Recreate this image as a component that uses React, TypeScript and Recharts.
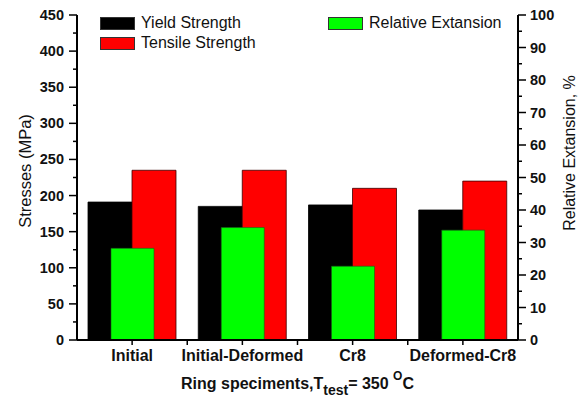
import { ComposedChart, Bar, XAxis, YAxis } from 'recharts';

const categories = ['Initial', 'Initial-Deformed', 'Cr8', 'Deformed-Cr8'];
const yieldStrength = [191, 185, 187, 180];
const tensileStrength = [235, 235, 210, 220];
const relativeExtansion = [28.2, 34.6, 22.7, 33.8];

const stressTicks = [0, 25, 50, 75, 100, 125, 150, 175, 200, 225, 250, 275, 300, 325, 350, 375, 400, 425, 450];
const extTicks = [0, 5, 10, 15, 20, 25, 30, 35, 40, 45, 50, 55, 60, 65, 70, 75, 80, 85, 90, 95, 100];

const data = categories.map((name, i) => ({
  name,
  yield: yieldStrength[i],
  tensile: tensileStrength[i],
  ext: relativeExtansion[i],
}));

const FONT = '"Liberation Sans", Arial, sans-serif';
const BAND = 110.25;
const boldText = { fontWeight: 700, fontFamily: FONT };

function LeftTick(props: any) {
  const { x, y, payload } = props;
  const major = payload.value % 50 === 0;
  return (
    <g>
      <line x1={x} x2={x - (major ? 8 : 4)} y1={y} y2={y} stroke="#000" strokeWidth={1.5} />
      {major && (
        <text x={x - 13} y={y + 5} textAnchor="end" fontSize={14.5} style={boldText} fill="#111">
          {payload.value}
        </text>
      )}
    </g>
  );
}

function RightTick(props: any) {
  const { x, y, payload } = props;
  const major = payload.value % 10 === 0;
  return (
    <g>
      <line x1={x} x2={x + (major ? 8 : 4)} y1={y} y2={y} stroke="#000" strokeWidth={1.5} />
      {major && (
        <text x={x + 12} y={y + 5} textAnchor="start" fontSize={14.5} style={boldText} fill="#111">
          {payload.value}
        </text>
      )}
    </g>
  );
}

function BottomTick(props: any) {
  const { x, y, payload, index } = props;
  return (
    <g>
      <line x1={x} x2={x} y1={y} y2={y + 5} stroke="#000" strokeWidth={1.5} />
      {index < categories.length - 1 && (
        <line x1={x + BAND / 2} x2={x + BAND / 2} y1={y} y2={y + 5} stroke="#000" strokeWidth={1.5} />
      )}
      <text x={x} y={y + 21} textAnchor="middle" fontSize={16} style={boldText} fill="#111">
        {payload.value}
      </text>
    </g>
  );
}

function XTitle(props: any) {
  const { viewBox } = props;
  const cx = viewBox.x + viewBox.width / 2;
  return (
    <text x={cx} y={389} textAnchor="middle" fontSize={16} style={boldText} fill="#111">
      <tspan>Ring speciments,T</tspan>
      <tspan fontSize={14} dy={6}>test</tspan>
      <tspan dy={-6}>= 350 </tspan>
      <tspan fontSize={12} dy={-9}>O</tspan>
      <tspan dy={9}>C</tspan>
    </text>
  );
}

function LeftTitle() {
  return (
    <text x={0} y={0} transform="translate(31,171) rotate(-90)" textAnchor="middle" fontSize={16.5} fontFamily={FONT} fill="#111">
      Stresses (MPa)
    </text>
  );
}

function RightTitle() {
  return (
    <text x={0} y={0} transform="translate(575,153) rotate(-90)" textAnchor="middle" fontSize={16} fontFamily={FONT} fill="#111">
      Relative Extansion, %
    </text>
  );
}

const legendItems = [
  { label: 'Yield Strength', color: '#000000', left: 100, top: 16 },
  { label: 'Tensile Strength', color: '#ff0000', left: 100, top: 36 },
  { label: 'Relative Extansion', color: '#00ff00', left: 328, top: 16 },
];

export default function App() {
  return (
    <div style={{ position: 'absolute', left: 0, top: 0, width: 581, height: 401, background: '#fff' }}>
      <ComposedChart
        width={581}
        height={401}
        data={data}
        margin={{ top: 15, right: 23, bottom: 0, left: 17 }}
        barGap={0}
      >
        <XAxis
          xAxisId="main"
          dataKey="name"
          height={61}
          tickSize={0}
          tickMargin={0}
          tick={<BottomTick />}
          axisLine={{ stroke: '#000', strokeWidth: 2 }}
          interval={0}
          label={<XTitle />}
        />
        <XAxis xAxisId="ext" dataKey="name" orientation="top" height={0} hide />
        <YAxis
          yAxisId="left"
          width={60}
          domain={[0, 450]}
          ticks={stressTicks}
          interval={0}
          tickSize={0}
          tickMargin={0}
          tick={<LeftTick />}
          axisLine={{ stroke: '#000', strokeWidth: 2 }}
          label={<LeftTitle />}
        />
        <YAxis
          yAxisId="right"
          orientation="right"
          width={40}
          domain={[0, 100]}
          ticks={extTicks}
          interval={0}
          tickSize={0}
          tickMargin={0}
          tick={<RightTick />}
          axisLine={{ stroke: '#000', strokeWidth: 2 }}
          label={<RightTitle />}
        />
        <Bar xAxisId="main" yAxisId="left" dataKey="yield" fill="#000000" stroke="#000" strokeWidth={0.8} barSize={44} isAnimationActive={false} />
        <Bar xAxisId="main" yAxisId="left" dataKey="tensile" fill="#ff0000" stroke="#3a0000" strokeWidth={0.8} barSize={44} isAnimationActive={false} />
        <Bar xAxisId="ext" yAxisId="right" dataKey="ext" fill="#00ff00" stroke="#1a5a1a" strokeWidth={0.6} barSize={43} isAnimationActive={false} />
      </ComposedChart>
      {legendItems.map((item) => (
        <div key={item.label} style={{ position: 'absolute', left: item.left, top: item.top, display: 'flex', alignItems: 'center', fontFamily: FONT, fontSize: 16, color: '#111', lineHeight: '14px' }}>
          <span style={{ display: 'inline-block', width: 35, height: 13, background: item.color, border: '1px solid #333', boxSizing: 'border-box', marginRight: 6 }} />
          {item.label}
        </div>
      ))}
    </div>
  );
}
